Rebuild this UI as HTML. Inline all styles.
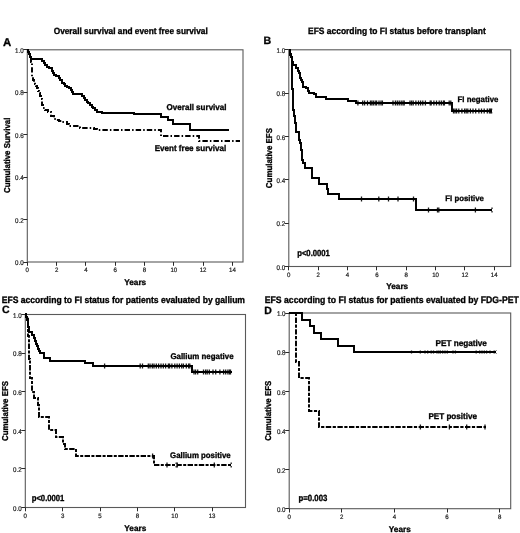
<!DOCTYPE html><html><head><meta charset="utf-8"><style>html,body{margin:0;padding:0;background:#fff;width:520px;height:533px;overflow:hidden}svg{display:block;filter:blur(0.35px)}text{font-family:"Liberation Sans",sans-serif;text-rendering:geometricPrecision}</style></head><body>
<svg width="520" height="533" viewBox="0 0 520 533">
<rect width="520" height="533" fill="#fff"/>
<rect x="27.30" y="49.80" width="215.70" height="212.20" fill="none" stroke="#5a5a5a" stroke-width="1.1"/>
<line x1="23.30" y1="262.50" x2="27.30" y2="262.50" stroke="#2a2a2a" stroke-width="1"/>
<text x="23.60" y="0" font-size="6.20" font-weight="normal" text-anchor="end" fill="#1a1a1a" stroke="#222" stroke-width="0.18" transform="translate(0,265.25) scale(1,1.100)">0.0</text>
<line x1="23.30" y1="219.50" x2="27.30" y2="219.50" stroke="#2a2a2a" stroke-width="1"/>
<text x="23.60" y="0" font-size="6.20" font-weight="normal" text-anchor="end" fill="#1a1a1a" stroke="#222" stroke-width="0.18" transform="translate(0,222.81) scale(1,1.100)">0.2</text>
<line x1="23.30" y1="177.50" x2="27.30" y2="177.50" stroke="#2a2a2a" stroke-width="1"/>
<text x="23.60" y="0" font-size="6.20" font-weight="normal" text-anchor="end" fill="#1a1a1a" stroke="#222" stroke-width="0.18" transform="translate(0,180.37) scale(1,1.100)">0.4</text>
<line x1="23.30" y1="134.50" x2="27.30" y2="134.50" stroke="#2a2a2a" stroke-width="1"/>
<text x="23.60" y="0" font-size="6.20" font-weight="normal" text-anchor="end" fill="#1a1a1a" stroke="#222" stroke-width="0.18" transform="translate(0,137.93) scale(1,1.100)">0.6</text>
<line x1="23.30" y1="92.50" x2="27.30" y2="92.50" stroke="#2a2a2a" stroke-width="1"/>
<text x="23.60" y="0" font-size="6.20" font-weight="normal" text-anchor="end" fill="#1a1a1a" stroke="#222" stroke-width="0.18" transform="translate(0,95.49) scale(1,1.100)">0.8</text>
<line x1="23.30" y1="49.50" x2="27.30" y2="49.50" stroke="#2a2a2a" stroke-width="1"/>
<text x="23.60" y="0" font-size="6.20" font-weight="normal" text-anchor="end" fill="#1a1a1a" stroke="#222" stroke-width="0.18" transform="translate(0,53.05) scale(1,1.100)">1.0</text>
<line x1="27.50" y1="262.00" x2="27.50" y2="265.80" stroke="#2a2a2a" stroke-width="1"/>
<text x="27.30" y="0" font-size="6.10" font-weight="normal" text-anchor="middle" fill="#1a1a1a" stroke="#222" stroke-width="0.2" transform="translate(0,272.00) scale(1,1.030)">0</text>
<line x1="56.50" y1="262.00" x2="56.50" y2="265.80" stroke="#2a2a2a" stroke-width="1"/>
<text x="56.60" y="0" font-size="6.10" font-weight="normal" text-anchor="middle" fill="#1a1a1a" stroke="#222" stroke-width="0.2" transform="translate(0,272.00) scale(1,1.030)">2</text>
<line x1="85.50" y1="262.00" x2="85.50" y2="265.80" stroke="#2a2a2a" stroke-width="1"/>
<text x="85.90" y="0" font-size="6.10" font-weight="normal" text-anchor="middle" fill="#1a1a1a" stroke="#222" stroke-width="0.2" transform="translate(0,272.00) scale(1,1.030)">4</text>
<line x1="115.50" y1="262.00" x2="115.50" y2="265.80" stroke="#2a2a2a" stroke-width="1"/>
<text x="115.20" y="0" font-size="6.10" font-weight="normal" text-anchor="middle" fill="#1a1a1a" stroke="#222" stroke-width="0.2" transform="translate(0,272.00) scale(1,1.030)">6</text>
<line x1="144.50" y1="262.00" x2="144.50" y2="265.80" stroke="#2a2a2a" stroke-width="1"/>
<text x="144.50" y="0" font-size="6.10" font-weight="normal" text-anchor="middle" fill="#1a1a1a" stroke="#222" stroke-width="0.2" transform="translate(0,272.00) scale(1,1.030)">8</text>
<line x1="173.50" y1="262.00" x2="173.50" y2="265.80" stroke="#2a2a2a" stroke-width="1"/>
<text x="173.80" y="0" font-size="6.10" font-weight="normal" text-anchor="middle" fill="#1a1a1a" stroke="#222" stroke-width="0.2" transform="translate(0,272.00) scale(1,1.030)">10</text>
<line x1="203.50" y1="262.00" x2="203.50" y2="265.80" stroke="#2a2a2a" stroke-width="1"/>
<text x="203.10" y="0" font-size="6.10" font-weight="normal" text-anchor="middle" fill="#1a1a1a" stroke="#222" stroke-width="0.2" transform="translate(0,272.00) scale(1,1.030)">12</text>
<line x1="232.50" y1="262.00" x2="232.50" y2="265.80" stroke="#2a2a2a" stroke-width="1"/>
<text x="232.40" y="0" font-size="6.10" font-weight="normal" text-anchor="middle" fill="#1a1a1a" stroke="#222" stroke-width="0.2" transform="translate(0,272.00) scale(1,1.030)">14</text>
<text x="2.90" y="45.50" font-size="11.40" font-weight="bold" text-anchor="start" fill="#000" stroke="#000" stroke-width="0.30">A</text>
<text x="130.70" y="0" font-size="8.30" font-weight="bold" text-anchor="middle" fill="#000" stroke="#000" stroke-width="0.30" transform="translate(0,33.70) scale(1,1.090)">Overall survival and event free survival</text>
<text x="166.60" y="0" font-size="8.05" font-weight="bold" text-anchor="start" fill="#000" stroke="#000" stroke-width="0.30" transform="translate(0,110.00) scale(1,1.050)">Overall survival</text>
<text x="154.70" y="0" font-size="8.05" font-weight="bold" text-anchor="start" fill="#000" stroke="#000" stroke-width="0.30" transform="translate(0,151.30) scale(1,1.050)">Event free survival</text>
<text x="0" y="0" font-size="7.90" font-weight="bold" text-anchor="middle" fill="#000" stroke="#000" stroke-width="0.30" transform="translate(10.10,155.30) rotate(-90) scale(1,1.080)">Cumulative Survival</text>
<text x="135.20" y="284.70" font-size="8.20" font-weight="bold" text-anchor="middle" fill="#000" stroke="#000" stroke-width="0.30">Years</text>
<path d="M27.00,50.00 L28.00,50.00 L28.00,52.00 L29.00,52.00 L29.00,54.00 L30.00,54.00 L30.00,56.00 L30.00,57.00 L31.00,57.00 L31.00,59.00 L41.00,59.00 L42.00,59.00 L42.00,61.00 L44.00,61.00 L44.00,63.00 L45.00,63.00 L45.00,65.00 L47.00,65.00 L47.00,67.00 L49.00,67.00 L49.00,68.00 L52.00,68.00 L52.00,71.00 L53.00,71.00 L53.00,73.00 L54.00,73.00 L54.00,75.00 L56.00,75.00 L56.00,76.00 L59.00,76.00 L59.00,78.00 L60.00,78.00 L60.00,80.00 L62.00,80.00 L62.00,83.00 L64.00,83.00 L64.00,84.00 L65.00,84.00 L65.00,86.00 L67.00,86.00 L67.00,87.00 L69.00,87.00 L69.00,88.00 L71.00,88.00 L71.00,90.00 L72.00,90.00 L72.00,92.00 L73.00,92.00 L73.00,94.00 L80.00,94.00 L82.00,94.00 L82.00,96.00 L84.00,96.00 L84.00,98.00 L85.00,98.00 L85.00,100.00 L87.00,100.00 L87.00,102.00 L88.00,102.00 L88.00,103.00 L90.00,103.00 L90.00,105.00 L92.00,105.00 L92.00,107.00 L93.00,107.00 L93.00,108.00 L95.00,108.00 L95.00,110.00 L97.00,110.00 L97.00,112.00 L99.00,112.00 L102.00,112.00 L102.00,113.00 L134.00,113.00 L134.00,114.00 L161.00,114.00 L161.00,117.00 L168.00,117.00 L168.00,120.00 L173.00,120.00 L173.00,124.00 L190.00,124.00 L190.00,130.00 L229.00,130.00" fill="none" stroke="#000" stroke-width="1.95" stroke-linejoin="miter" stroke-linecap="butt"/>
<path d="M27.00,50.00 L28.00,50.00 L28.00,52.00 L29.00,52.00 L29.00,54.00 L30.00,54.00 L30.00,57.00 L31.00,57.00 L31.00,59.00 L31.00,62.00 L32.00,62.00 L32.00,65.00 L32.00,67.00 L32.00,69.00 L32.00,72.00 L32.00,74.00 L32.00,77.00 L33.00,77.00 L33.00,80.00 L34.00,80.00 L34.00,82.00 L35.00,82.00 L35.00,84.00 L36.00,84.00 L36.00,86.00 L37.00,86.00 L37.00,88.00 L38.00,88.00 L38.00,91.00 L39.00,91.00 L39.00,93.00 L40.00,93.00 L40.00,96.00 L41.00,96.00 L41.00,99.00 L42.00,99.00 L42.00,102.00 L42.00,105.00 L43.00,105.00 L43.00,108.00 L45.00,108.00 L45.00,110.00 L48.00,110.00 L48.00,112.00 L51.00,112.00 L51.00,116.00 L54.00,116.00 L54.00,119.00 L56.00,119.00 L56.00,120.00 L59.00,120.00 L59.00,121.00 L62.00,121.00 L62.00,122.00 L65.00,122.00 L67.00,122.00 L67.00,124.00 L69.00,124.00 L69.00,126.00 L80.00,126.00 L80.00,128.00 L91.00,128.00 L94.00,128.00 L94.00,129.00 L97.00,129.00 L97.00,130.00 L161.00,130.00 L161.00,136.00 L199.00,136.00 L199.00,141.00 L240.00,141.00" fill="none" stroke="#000" stroke-width="1.95" stroke-linejoin="miter" stroke-linecap="butt" stroke-dasharray="5.4,2.1,1.5,2.1"/>
<rect x="288.80" y="49.80" width="221.90" height="216.70" fill="none" stroke="#5a5a5a" stroke-width="1.1"/>
<line x1="284.80" y1="266.50" x2="288.80" y2="266.50" stroke="#2a2a2a" stroke-width="1"/>
<text x="285.10" y="0" font-size="6.20" font-weight="normal" text-anchor="end" fill="#1a1a1a" stroke="#222" stroke-width="0.18" transform="translate(0,269.75) scale(1,1.100)">0.0</text>
<line x1="284.80" y1="223.50" x2="288.80" y2="223.50" stroke="#2a2a2a" stroke-width="1"/>
<text x="285.10" y="0" font-size="6.20" font-weight="normal" text-anchor="end" fill="#1a1a1a" stroke="#222" stroke-width="0.18" transform="translate(0,226.41) scale(1,1.100)">0.2</text>
<line x1="284.80" y1="179.50" x2="288.80" y2="179.50" stroke="#2a2a2a" stroke-width="1"/>
<text x="285.10" y="0" font-size="6.20" font-weight="normal" text-anchor="end" fill="#1a1a1a" stroke="#222" stroke-width="0.18" transform="translate(0,183.07) scale(1,1.100)">0.4</text>
<line x1="284.80" y1="136.50" x2="288.80" y2="136.50" stroke="#2a2a2a" stroke-width="1"/>
<text x="285.10" y="0" font-size="6.20" font-weight="normal" text-anchor="end" fill="#1a1a1a" stroke="#222" stroke-width="0.18" transform="translate(0,139.73) scale(1,1.100)">0.6</text>
<line x1="284.80" y1="93.50" x2="288.80" y2="93.50" stroke="#2a2a2a" stroke-width="1"/>
<text x="285.10" y="0" font-size="6.20" font-weight="normal" text-anchor="end" fill="#1a1a1a" stroke="#222" stroke-width="0.18" transform="translate(0,96.39) scale(1,1.100)">0.8</text>
<line x1="284.80" y1="49.50" x2="288.80" y2="49.50" stroke="#2a2a2a" stroke-width="1"/>
<text x="285.10" y="0" font-size="6.20" font-weight="normal" text-anchor="end" fill="#1a1a1a" stroke="#222" stroke-width="0.18" transform="translate(0,53.05) scale(1,1.100)">1.0</text>
<line x1="288.50" y1="266.50" x2="288.50" y2="270.30" stroke="#2a2a2a" stroke-width="1"/>
<text x="288.80" y="0" font-size="6.10" font-weight="normal" text-anchor="middle" fill="#1a1a1a" stroke="#222" stroke-width="0.2" transform="translate(0,276.50) scale(1,1.030)">0</text>
<line x1="318.50" y1="266.50" x2="318.50" y2="270.30" stroke="#2a2a2a" stroke-width="1"/>
<text x="318.15" y="0" font-size="6.10" font-weight="normal" text-anchor="middle" fill="#1a1a1a" stroke="#222" stroke-width="0.2" transform="translate(0,276.50) scale(1,1.030)">2</text>
<line x1="347.50" y1="266.50" x2="347.50" y2="270.30" stroke="#2a2a2a" stroke-width="1"/>
<text x="347.50" y="0" font-size="6.10" font-weight="normal" text-anchor="middle" fill="#1a1a1a" stroke="#222" stroke-width="0.2" transform="translate(0,276.50) scale(1,1.030)">4</text>
<line x1="376.50" y1="266.50" x2="376.50" y2="270.30" stroke="#2a2a2a" stroke-width="1"/>
<text x="376.85" y="0" font-size="6.10" font-weight="normal" text-anchor="middle" fill="#1a1a1a" stroke="#222" stroke-width="0.2" transform="translate(0,276.50) scale(1,1.030)">6</text>
<line x1="406.50" y1="266.50" x2="406.50" y2="270.30" stroke="#2a2a2a" stroke-width="1"/>
<text x="406.20" y="0" font-size="6.10" font-weight="normal" text-anchor="middle" fill="#1a1a1a" stroke="#222" stroke-width="0.2" transform="translate(0,276.50) scale(1,1.030)">8</text>
<line x1="435.50" y1="266.50" x2="435.50" y2="270.30" stroke="#2a2a2a" stroke-width="1"/>
<text x="435.55" y="0" font-size="6.10" font-weight="normal" text-anchor="middle" fill="#1a1a1a" stroke="#222" stroke-width="0.2" transform="translate(0,276.50) scale(1,1.030)">10</text>
<line x1="464.50" y1="266.50" x2="464.50" y2="270.30" stroke="#2a2a2a" stroke-width="1"/>
<text x="464.90" y="0" font-size="6.10" font-weight="normal" text-anchor="middle" fill="#1a1a1a" stroke="#222" stroke-width="0.2" transform="translate(0,276.50) scale(1,1.030)">12</text>
<line x1="494.50" y1="266.50" x2="494.50" y2="270.30" stroke="#2a2a2a" stroke-width="1"/>
<text x="494.25" y="0" font-size="6.10" font-weight="normal" text-anchor="middle" fill="#1a1a1a" stroke="#222" stroke-width="0.2" transform="translate(0,276.50) scale(1,1.030)">14</text>
<text x="263.50" y="43.90" font-size="10.60" font-weight="bold" text-anchor="start" fill="#000" stroke="#000" stroke-width="0.30">B</text>
<text x="396.90" y="0" font-size="8.45" font-weight="bold" text-anchor="middle" fill="#000" stroke="#000" stroke-width="0.30" transform="translate(0,33.70) scale(1,1.090)">EFS according to FI status before transplant</text>
<text x="457.60" y="0" font-size="7.80" font-weight="bold" text-anchor="start" fill="#000" stroke="#000" stroke-width="0.30" transform="translate(0,102.30) scale(1,1.040)">FI negative</text>
<text x="445.30" y="0" font-size="7.80" font-weight="bold" text-anchor="start" fill="#000" stroke="#000" stroke-width="0.30" transform="translate(0,201.20) scale(1,1.040)">FI positive</text>
<text x="297.20" y="0" font-size="7.70" font-weight="bold" text-anchor="start" fill="#000" stroke="#000" stroke-width="0.30" transform="translate(0,256.30) scale(1,1.150)">p&lt;0.0001</text>
<text x="0" y="0" font-size="7.90" font-weight="bold" text-anchor="middle" fill="#000" stroke="#000" stroke-width="0.30" transform="translate(271.60,158.10) rotate(-90) scale(1,1.080)">Cumulative EFS</text>
<text x="397.20" y="288.80" font-size="8.20" font-weight="bold" text-anchor="middle" fill="#000" stroke="#000" stroke-width="0.30">Years</text>
<path d="M289.00,50.00 L290.00,50.00 L290.00,52.00 L290.00,55.00 L291.00,55.00 L291.00,57.00 L292.00,57.00 L292.00,60.00 L292.00,62.00 L293.00,62.00 L293.00,65.00 L296.00,65.00 L296.00,68.00 L298.00,68.00 L298.00,71.00 L299.00,71.00 L299.00,73.00 L300.00,73.00 L300.00,76.00 L300.00,78.00 L301.00,78.00 L301.00,80.00 L302.00,80.00 L302.00,82.00 L303.00,82.00 L303.00,85.00 L303.00,87.00 L306.00,87.00 L306.00,88.00 L308.00,88.00 L308.00,91.00 L309.00,91.00 L309.00,93.00 L311.00,93.00 L314.00,93.00 L314.00,94.00 L316.00,94.00 L316.00,97.00 L326.00,97.00 L326.00,99.00 L348.00,99.00 L348.00,101.00 L356.00,101.00 L356.00,103.00 L452.00,103.00 L452.00,111.00 L492.00,111.00" fill="none" stroke="#000" stroke-width="1.95" stroke-linejoin="miter" stroke-linecap="butt"/>
<path d="M357.90,100.60 V102.10 M357.90,103.90 V105.40" stroke="#1a1a1a" stroke-width="1.30"/>
<path d="M362.70,100.60 V102.10 M362.70,103.90 V105.40" stroke="#1a1a1a" stroke-width="1.30"/>
<path d="M364.60,100.60 V102.10 M364.60,103.90 V105.40" stroke="#1a1a1a" stroke-width="1.30"/>
<path d="M367.50,100.60 V102.10 M367.50,103.90 V105.40" stroke="#1a1a1a" stroke-width="1.30"/>
<path d="M370.40,100.60 V102.10 M370.40,103.90 V105.40" stroke="#1a1a1a" stroke-width="1.30"/>
<path d="M371.80,100.60 V102.10 M371.80,103.90 V105.40" stroke="#1a1a1a" stroke-width="1.30"/>
<path d="M373.30,100.60 V102.10 M373.30,103.90 V105.40" stroke="#1a1a1a" stroke-width="1.30"/>
<path d="M375.20,100.60 V102.10 M375.20,103.90 V105.40" stroke="#1a1a1a" stroke-width="1.30"/>
<path d="M376.60,100.60 V102.10 M376.60,103.90 V105.40" stroke="#1a1a1a" stroke-width="1.30"/>
<path d="M379.00,100.60 V102.10 M379.00,103.90 V105.40" stroke="#1a1a1a" stroke-width="1.30"/>
<path d="M381.00,100.60 V102.10 M381.00,103.90 V105.40" stroke="#1a1a1a" stroke-width="1.30"/>
<path d="M382.40,100.60 V102.10 M382.40,103.90 V105.40" stroke="#1a1a1a" stroke-width="1.30"/>
<path d="M393.00,100.60 V102.10 M393.00,103.90 V105.40" stroke="#1a1a1a" stroke-width="1.30"/>
<path d="M395.40,100.60 V102.10 M395.40,103.90 V105.40" stroke="#1a1a1a" stroke-width="1.30"/>
<path d="M397.30,100.60 V102.10 M397.30,103.90 V105.40" stroke="#1a1a1a" stroke-width="1.30"/>
<path d="M399.20,100.60 V102.10 M399.20,103.90 V105.40" stroke="#1a1a1a" stroke-width="1.30"/>
<path d="M401.20,100.60 V102.10 M401.20,103.90 V105.40" stroke="#1a1a1a" stroke-width="1.30"/>
<path d="M403.00,100.60 V102.10 M403.00,103.90 V105.40" stroke="#1a1a1a" stroke-width="1.30"/>
<path d="M404.20,100.60 V102.10 M404.20,103.90 V105.40" stroke="#1a1a1a" stroke-width="1.30"/>
<path d="M410.00,100.60 V102.10 M410.00,103.90 V105.40" stroke="#1a1a1a" stroke-width="1.30"/>
<path d="M411.60,100.60 V102.10 M411.60,103.90 V105.40" stroke="#1a1a1a" stroke-width="1.30"/>
<path d="M413.20,100.60 V102.10 M413.20,103.90 V105.40" stroke="#1a1a1a" stroke-width="1.30"/>
<path d="M415.90,100.60 V102.10 M415.90,103.90 V105.40" stroke="#1a1a1a" stroke-width="1.30"/>
<path d="M418.50,100.60 V102.10 M418.50,103.90 V105.40" stroke="#1a1a1a" stroke-width="1.30"/>
<path d="M420.60,100.60 V102.10 M420.60,103.90 V105.40" stroke="#1a1a1a" stroke-width="1.30"/>
<path d="M422.80,100.60 V102.10 M422.80,103.90 V105.40" stroke="#1a1a1a" stroke-width="1.30"/>
<path d="M425.40,100.60 V102.10 M425.40,103.90 V105.40" stroke="#1a1a1a" stroke-width="1.30"/>
<path d="M430.20,100.60 V102.10 M430.20,103.90 V105.40" stroke="#1a1a1a" stroke-width="1.30"/>
<path d="M431.20,100.60 V102.10 M431.20,103.90 V105.40" stroke="#1a1a1a" stroke-width="1.30"/>
<path d="M433.90,100.60 V102.10 M433.90,103.90 V105.40" stroke="#1a1a1a" stroke-width="1.30"/>
<path d="M436.50,100.60 V102.10 M436.50,103.90 V105.40" stroke="#1a1a1a" stroke-width="1.30"/>
<path d="M439.20,100.60 V102.10 M439.20,103.90 V105.40" stroke="#1a1a1a" stroke-width="1.30"/>
<path d="M441.30,100.60 V102.10 M441.30,103.90 V105.40" stroke="#1a1a1a" stroke-width="1.30"/>
<path d="M443.40,100.60 V102.10 M443.40,103.90 V105.40" stroke="#1a1a1a" stroke-width="1.30"/>
<path d="M444.40,100.60 V102.10 M444.40,103.90 V105.40" stroke="#1a1a1a" stroke-width="1.30"/>
<path d="M449.20,100.60 V102.10 M449.20,103.90 V105.40" stroke="#1a1a1a" stroke-width="1.30"/>
<path d="M450.80,100.60 V102.10 M450.80,103.90 V105.40" stroke="#1a1a1a" stroke-width="1.30"/>
<path d="M453.50,108.60 V110.10 M453.50,111.90 V113.40" stroke="#1a1a1a" stroke-width="1.30"/>
<path d="M455.00,108.60 V110.10 M455.00,111.90 V113.40" stroke="#1a1a1a" stroke-width="1.30"/>
<path d="M456.60,108.60 V110.10 M456.60,111.90 V113.40" stroke="#1a1a1a" stroke-width="1.30"/>
<path d="M458.80,108.60 V110.10 M458.80,111.90 V113.40" stroke="#1a1a1a" stroke-width="1.30"/>
<path d="M461.90,108.60 V110.10 M461.90,111.90 V113.40" stroke="#1a1a1a" stroke-width="1.30"/>
<path d="M464.60,108.60 V110.10 M464.60,111.90 V113.40" stroke="#1a1a1a" stroke-width="1.30"/>
<path d="M466.20,108.60 V110.10 M466.20,111.90 V113.40" stroke="#1a1a1a" stroke-width="1.30"/>
<path d="M467.80,108.60 V110.10 M467.80,111.90 V113.40" stroke="#1a1a1a" stroke-width="1.30"/>
<path d="M470.40,108.60 V110.10 M470.40,111.90 V113.40" stroke="#1a1a1a" stroke-width="1.30"/>
<path d="M473.00,108.60 V110.10 M473.00,111.90 V113.40" stroke="#1a1a1a" stroke-width="1.30"/>
<path d="M475.70,108.60 V110.10 M475.70,111.90 V113.40" stroke="#1a1a1a" stroke-width="1.30"/>
<path d="M478.90,108.60 V110.10 M478.90,111.90 V113.40" stroke="#1a1a1a" stroke-width="1.30"/>
<path d="M481.50,108.60 V110.10 M481.50,111.90 V113.40" stroke="#1a1a1a" stroke-width="1.30"/>
<path d="M484.20,108.60 V110.10 M484.20,111.90 V113.40" stroke="#1a1a1a" stroke-width="1.30"/>
<path d="M487.30,108.60 V110.10 M487.30,111.90 V113.40" stroke="#1a1a1a" stroke-width="1.30"/>
<path d="M489.40,108.60 V110.10 M489.40,111.90 V113.40" stroke="#1a1a1a" stroke-width="1.30"/>
<path d="M490.50,108.60 V110.10 M490.50,111.90 V113.40" stroke="#1a1a1a" stroke-width="1.30"/>
<path d="M491.60,108.60 V110.10 M491.60,111.90 V113.40" stroke="#1a1a1a" stroke-width="1.30"/>
<path d="M289.00,50.00 L290.00,50.00 L290.00,54.00 L291.00,54.00 L291.00,57.00 L292.00,57.00 L292.00,60.00 L292.00,64.00 L292.00,67.00 L292.00,71.00 L292.00,74.00 L292.00,78.00 L292.00,81.00 L292.00,85.00 L292.00,89.00 L293.00,89.00 L293.00,92.00 L293.00,96.00 L293.00,99.00 L293.00,103.00 L293.00,106.00 L293.00,110.00 L294.00,110.00 L294.00,113.00 L294.00,116.00 L295.00,116.00 L295.00,120.00 L295.00,123.00 L296.00,123.00 L296.00,126.00 L296.00,129.00 L296.00,132.00 L299.00,132.00 L299.00,137.00 L299.00,140.00 L300.00,140.00 L300.00,143.00 L301.00,143.00 L301.00,147.00 L301.00,150.00 L302.00,150.00 L302.00,153.00 L302.00,156.00 L302.00,160.00 L303.00,160.00 L303.00,163.00 L305.00,163.00 L305.00,168.00 L312.00,168.00 L312.00,178.00 L319.00,178.00 L319.00,184.00 L327.00,184.00 L327.00,189.00 L328.00,189.00 L328.00,194.00 L339.00,194.00 L339.00,199.00 L416.00,199.00 L416.00,210.00 L492.00,210.00" fill="none" stroke="#000" stroke-width="1.95" stroke-linejoin="miter" stroke-linecap="butt"/>
<path d="M361.50,196.60 V198.10 M361.50,199.90 V201.40" stroke="#1a1a1a" stroke-width="1.30"/>
<path d="M378.80,196.60 V198.10 M378.80,199.90 V201.40" stroke="#1a1a1a" stroke-width="1.30"/>
<path d="M388.50,196.60 V198.10 M388.50,199.90 V201.40" stroke="#1a1a1a" stroke-width="1.30"/>
<path d="M398.00,196.60 V198.10 M398.00,199.90 V201.40" stroke="#1a1a1a" stroke-width="1.30"/>
<path d="M413.50,196.60 V198.10 M413.50,199.90 V201.40" stroke="#1a1a1a" stroke-width="1.30"/>
<path d="M428.50,207.60 V209.10 M428.50,210.90 V212.40" stroke="#1a1a1a" stroke-width="1.30"/>
<path d="M437.50,207.60 V209.10 M437.50,210.90 V212.40" stroke="#1a1a1a" stroke-width="1.30"/>
<path d="M438.80,207.60 V209.10 M438.80,210.90 V212.40" stroke="#1a1a1a" stroke-width="1.30"/>
<path d="M475.40,207.60 V209.10 M475.40,210.90 V212.40" stroke="#1a1a1a" stroke-width="1.30"/>
<path d="M492.00,207.60 V209.10 M492.00,210.90 V212.40" stroke="#1a1a1a" stroke-width="1.30"/>
<rect x="25.30" y="314.50" width="220.20" height="193.00" fill="none" stroke="#5a5a5a" stroke-width="1.1"/>
<line x1="21.30" y1="507.50" x2="25.30" y2="507.50" stroke="#2a2a2a" stroke-width="1"/>
<text x="21.60" y="0" font-size="6.20" font-weight="normal" text-anchor="end" fill="#1a1a1a" stroke="#222" stroke-width="0.18" transform="translate(0,510.75) scale(1,1.100)">0.0</text>
<line x1="21.30" y1="468.50" x2="25.30" y2="468.50" stroke="#2a2a2a" stroke-width="1"/>
<text x="21.60" y="0" font-size="6.20" font-weight="normal" text-anchor="end" fill="#1a1a1a" stroke="#222" stroke-width="0.18" transform="translate(0,472.15) scale(1,1.100)">0.2</text>
<line x1="21.30" y1="430.50" x2="25.30" y2="430.50" stroke="#2a2a2a" stroke-width="1"/>
<text x="21.60" y="0" font-size="6.20" font-weight="normal" text-anchor="end" fill="#1a1a1a" stroke="#222" stroke-width="0.18" transform="translate(0,433.55) scale(1,1.100)">0.4</text>
<line x1="21.30" y1="391.50" x2="25.30" y2="391.50" stroke="#2a2a2a" stroke-width="1"/>
<text x="21.60" y="0" font-size="6.20" font-weight="normal" text-anchor="end" fill="#1a1a1a" stroke="#222" stroke-width="0.18" transform="translate(0,394.95) scale(1,1.100)">0.6</text>
<line x1="21.30" y1="353.50" x2="25.30" y2="353.50" stroke="#2a2a2a" stroke-width="1"/>
<text x="21.60" y="0" font-size="6.20" font-weight="normal" text-anchor="end" fill="#1a1a1a" stroke="#222" stroke-width="0.18" transform="translate(0,356.35) scale(1,1.100)">0.8</text>
<line x1="21.30" y1="314.50" x2="25.30" y2="314.50" stroke="#2a2a2a" stroke-width="1"/>
<text x="21.60" y="0" font-size="6.20" font-weight="normal" text-anchor="end" fill="#1a1a1a" stroke="#222" stroke-width="0.18" transform="translate(0,317.75) scale(1,1.100)">1.0</text>
<line x1="25.50" y1="507.50" x2="25.50" y2="511.30" stroke="#2a2a2a" stroke-width="1"/>
<text x="25.30" y="0" font-size="6.10" font-weight="normal" text-anchor="middle" fill="#1a1a1a" stroke="#222" stroke-width="0.2" transform="translate(0,517.50) scale(1,1.030)">0</text>
<line x1="62.50" y1="507.50" x2="62.50" y2="511.30" stroke="#2a2a2a" stroke-width="1"/>
<text x="62.65" y="0" font-size="6.10" font-weight="normal" text-anchor="middle" fill="#1a1a1a" stroke="#222" stroke-width="0.2" transform="translate(0,517.50) scale(1,1.030)">3</text>
<line x1="100.50" y1="507.50" x2="100.50" y2="511.30" stroke="#2a2a2a" stroke-width="1"/>
<text x="100.00" y="0" font-size="6.10" font-weight="normal" text-anchor="middle" fill="#1a1a1a" stroke="#222" stroke-width="0.2" transform="translate(0,517.50) scale(1,1.030)">5</text>
<line x1="137.50" y1="507.50" x2="137.50" y2="511.30" stroke="#2a2a2a" stroke-width="1"/>
<text x="137.35" y="0" font-size="6.10" font-weight="normal" text-anchor="middle" fill="#1a1a1a" stroke="#222" stroke-width="0.2" transform="translate(0,517.50) scale(1,1.030)">8</text>
<line x1="174.50" y1="507.50" x2="174.50" y2="511.30" stroke="#2a2a2a" stroke-width="1"/>
<text x="174.70" y="0" font-size="6.10" font-weight="normal" text-anchor="middle" fill="#1a1a1a" stroke="#222" stroke-width="0.2" transform="translate(0,517.50) scale(1,1.030)">10</text>
<line x1="212.50" y1="507.50" x2="212.50" y2="511.30" stroke="#2a2a2a" stroke-width="1"/>
<text x="212.05" y="0" font-size="6.10" font-weight="normal" text-anchor="middle" fill="#1a1a1a" stroke="#222" stroke-width="0.2" transform="translate(0,517.50) scale(1,1.030)">13</text>
<text x="2.00" y="313.40" font-size="10.50" font-weight="bold" text-anchor="start" fill="#000" stroke="#000" stroke-width="0.30">C</text>
<text x="1.80" y="0" font-size="8.56" font-weight="bold" text-anchor="start" fill="#000" stroke="#000" stroke-width="0.30" transform="translate(0,302.80) scale(1,1.090)">EFS according to FI status for patients evaluated by gallium</text>
<text x="170.40" y="0" font-size="7.90" font-weight="bold" text-anchor="start" fill="#000" stroke="#000" stroke-width="0.30" transform="translate(0,358.80) scale(1,1.040)">Gallium negative</text>
<text x="170.10" y="0" font-size="7.85" font-weight="bold" text-anchor="start" fill="#000" stroke="#000" stroke-width="0.30" transform="translate(0,457.70) scale(1,1.040)">Gallium positive</text>
<text x="31.70" y="0" font-size="7.70" font-weight="bold" text-anchor="start" fill="#000" stroke="#000" stroke-width="0.30" transform="translate(0,500.50) scale(1,1.150)">p&lt;0.0001</text>
<text x="0" y="0" font-size="7.90" font-weight="bold" text-anchor="middle" fill="#000" stroke="#000" stroke-width="0.30" transform="translate(7.60,411.00) rotate(-90) scale(1,1.080)">Cumulative EFS</text>
<text x="135.30" y="530.50" font-size="8.20" font-weight="bold" text-anchor="middle" fill="#000" stroke="#000" stroke-width="0.30">Years</text>
<path d="M25.00,314.00 L26.00,314.00 L26.00,317.00 L27.00,317.00 L27.00,320.00 L28.00,320.00 L28.00,322.00 L28.00,324.00 L28.00,327.00 L29.00,327.00 L29.00,330.00 L29.00,332.00 L32.00,332.00 L32.00,335.00 L34.00,335.00 L34.00,338.00 L35.00,338.00 L35.00,341.00 L36.00,341.00 L36.00,344.00 L37.00,344.00 L37.00,346.00 L38.00,346.00 L38.00,349.00 L39.00,349.00 L39.00,351.00 L40.00,351.00 L40.00,353.00 L44.00,353.00 L44.00,358.00 L50.00,358.00 L50.00,361.00 L85.00,361.00 L85.00,363.00 L88.00,363.00 L90.00,363.00 L93.00,363.00 L93.00,366.00 L192.00,366.00 L192.00,372.00 L232.00,372.00" fill="none" stroke="#000" stroke-width="1.95" stroke-linejoin="miter" stroke-linecap="butt"/>
<path d="M104.60,363.60 V365.10 M104.60,366.90 V368.40" stroke="#1a1a1a" stroke-width="1.30"/>
<path d="M140.20,363.60 V365.10 M140.20,366.90 V368.40" stroke="#1a1a1a" stroke-width="1.30"/>
<path d="M142.50,363.60 V365.10 M142.50,366.90 V368.40" stroke="#1a1a1a" stroke-width="1.30"/>
<path d="M148.30,363.60 V365.10 M148.30,366.90 V368.40" stroke="#1a1a1a" stroke-width="1.30"/>
<path d="M150.00,363.60 V365.10 M150.00,366.90 V368.40" stroke="#1a1a1a" stroke-width="1.30"/>
<path d="M152.30,363.60 V365.10 M152.30,366.90 V368.40" stroke="#1a1a1a" stroke-width="1.30"/>
<path d="M154.00,363.60 V365.10 M154.00,366.90 V368.40" stroke="#1a1a1a" stroke-width="1.30"/>
<path d="M156.30,363.60 V365.10 M156.30,366.90 V368.40" stroke="#1a1a1a" stroke-width="1.30"/>
<path d="M158.60,363.60 V365.10 M158.60,366.90 V368.40" stroke="#1a1a1a" stroke-width="1.30"/>
<path d="M161.00,363.60 V365.10 M161.00,366.90 V368.40" stroke="#1a1a1a" stroke-width="1.30"/>
<path d="M163.30,363.60 V365.10 M163.30,366.90 V368.40" stroke="#1a1a1a" stroke-width="1.30"/>
<path d="M165.60,363.60 V365.10 M165.60,366.90 V368.40" stroke="#1a1a1a" stroke-width="1.30"/>
<path d="M168.40,363.60 V365.10 M168.40,366.90 V368.40" stroke="#1a1a1a" stroke-width="1.30"/>
<path d="M169.60,363.60 V365.10 M169.60,366.90 V368.40" stroke="#1a1a1a" stroke-width="1.30"/>
<path d="M171.90,363.60 V365.10 M171.90,366.90 V368.40" stroke="#1a1a1a" stroke-width="1.30"/>
<path d="M174.80,363.60 V365.10 M174.80,366.90 V368.40" stroke="#1a1a1a" stroke-width="1.30"/>
<path d="M177.10,363.60 V365.10 M177.10,366.90 V368.40" stroke="#1a1a1a" stroke-width="1.30"/>
<path d="M179.40,363.60 V365.10 M179.40,366.90 V368.40" stroke="#1a1a1a" stroke-width="1.30"/>
<path d="M181.70,363.60 V365.10 M181.70,366.90 V368.40" stroke="#1a1a1a" stroke-width="1.30"/>
<path d="M183.40,363.60 V365.10 M183.40,366.90 V368.40" stroke="#1a1a1a" stroke-width="1.30"/>
<path d="M186.30,363.60 V365.10 M186.30,366.90 V368.40" stroke="#1a1a1a" stroke-width="1.30"/>
<path d="M188.60,363.60 V365.10 M188.60,366.90 V368.40" stroke="#1a1a1a" stroke-width="1.30"/>
<path d="M189.80,363.60 V365.10 M189.80,366.90 V368.40" stroke="#1a1a1a" stroke-width="1.30"/>
<path d="M194.00,369.60 V371.10 M194.00,372.90 V374.40" stroke="#1a1a1a" stroke-width="1.30"/>
<path d="M195.60,369.60 V371.10 M195.60,372.90 V374.40" stroke="#1a1a1a" stroke-width="1.30"/>
<path d="M197.70,369.60 V371.10 M197.70,372.90 V374.40" stroke="#1a1a1a" stroke-width="1.30"/>
<path d="M203.50,369.60 V371.10 M203.50,372.90 V374.40" stroke="#1a1a1a" stroke-width="1.30"/>
<path d="M205.60,369.60 V371.10 M205.60,372.90 V374.40" stroke="#1a1a1a" stroke-width="1.30"/>
<path d="M207.20,369.60 V371.10 M207.20,372.90 V374.40" stroke="#1a1a1a" stroke-width="1.30"/>
<path d="M209.30,369.60 V371.10 M209.30,372.90 V374.40" stroke="#1a1a1a" stroke-width="1.30"/>
<path d="M213.00,369.60 V371.10 M213.00,372.90 V374.40" stroke="#1a1a1a" stroke-width="1.30"/>
<path d="M215.70,369.60 V371.10 M215.70,372.90 V374.40" stroke="#1a1a1a" stroke-width="1.30"/>
<path d="M219.90,369.60 V371.10 M219.90,372.90 V374.40" stroke="#1a1a1a" stroke-width="1.30"/>
<path d="M223.60,369.60 V371.10 M223.60,372.90 V374.40" stroke="#1a1a1a" stroke-width="1.30"/>
<path d="M225.70,369.60 V371.10 M225.70,372.90 V374.40" stroke="#1a1a1a" stroke-width="1.30"/>
<path d="M227.90,369.60 V371.10 M227.90,372.90 V374.40" stroke="#1a1a1a" stroke-width="1.30"/>
<path d="M229.40,369.60 V371.10 M229.40,372.90 V374.40" stroke="#1a1a1a" stroke-width="1.30"/>
<path d="M230.50,369.60 V371.10 M230.50,372.90 V374.40" stroke="#1a1a1a" stroke-width="1.30"/>
<path d="M25.00,314.00 L26.00,314.00 L26.00,317.00 L28.00,317.00 L28.00,320.00 L28.00,323.00 L28.00,326.00 L28.00,330.00 L28.00,333.00 L28.00,336.00 L29.00,336.00 L29.00,339.00 L29.00,342.00 L29.00,344.00 L29.00,347.00 L29.00,350.00 L29.00,353.00 L29.00,356.00 L29.00,359.00 L30.00,359.00 L30.00,361.00 L30.00,364.00 L30.00,367.00 L30.00,370.00 L30.00,378.00 L32.00,378.00 L32.00,392.00 L34.00,392.00 L34.00,398.00 L38.00,398.00 L38.00,405.00 L39.00,405.00 L39.00,417.00 L49.00,417.00 L49.00,430.00 L56.00,430.00 L56.00,437.00 L63.00,437.00 L63.00,444.00 L65.00,444.00 L65.00,449.00 L76.00,449.00 L76.00,456.00 L154.00,456.00 L154.00,465.00 L232.00,465.00" fill="none" stroke="#000" stroke-width="1.95" stroke-linejoin="miter" stroke-linecap="butt" stroke-dasharray="5.4,1.4,3.0,1.4"/>
<path d="M152.60,453.60 V455.10 M152.60,456.90 V458.40" stroke="#1a1a1a" stroke-width="1.30"/>
<path d="M167.00,462.60 V464.10 M167.00,465.90 V467.40" stroke="#1a1a1a" stroke-width="1.30"/>
<path d="M176.20,462.60 V464.10 M176.20,465.90 V467.40" stroke="#1a1a1a" stroke-width="1.30"/>
<path d="M177.30,462.60 V464.10 M177.30,465.90 V467.40" stroke="#1a1a1a" stroke-width="1.30"/>
<path d="M214.30,462.60 V464.10 M214.30,465.90 V467.40" stroke="#1a1a1a" stroke-width="1.30"/>
<path d="M231.20,462.60 V464.10 M231.20,465.90 V467.40" stroke="#1a1a1a" stroke-width="1.30"/>
<rect x="289.20" y="313.00" width="221.50" height="195.70" fill="none" stroke="#5a5a5a" stroke-width="1.1"/>
<line x1="285.20" y1="508.50" x2="289.20" y2="508.50" stroke="#2a2a2a" stroke-width="1"/>
<text x="285.50" y="0" font-size="6.20" font-weight="normal" text-anchor="end" fill="#1a1a1a" stroke="#222" stroke-width="0.18" transform="translate(0,511.95) scale(1,1.100)">0.0</text>
<line x1="285.20" y1="469.50" x2="289.20" y2="469.50" stroke="#2a2a2a" stroke-width="1"/>
<text x="285.50" y="0" font-size="6.20" font-weight="normal" text-anchor="end" fill="#1a1a1a" stroke="#222" stroke-width="0.18" transform="translate(0,472.81) scale(1,1.100)">0.2</text>
<line x1="285.20" y1="430.50" x2="289.20" y2="430.50" stroke="#2a2a2a" stroke-width="1"/>
<text x="285.50" y="0" font-size="6.20" font-weight="normal" text-anchor="end" fill="#1a1a1a" stroke="#222" stroke-width="0.18" transform="translate(0,433.67) scale(1,1.100)">0.4</text>
<line x1="285.20" y1="391.50" x2="289.20" y2="391.50" stroke="#2a2a2a" stroke-width="1"/>
<text x="285.50" y="0" font-size="6.20" font-weight="normal" text-anchor="end" fill="#1a1a1a" stroke="#222" stroke-width="0.18" transform="translate(0,394.53) scale(1,1.100)">0.6</text>
<line x1="285.20" y1="352.50" x2="289.20" y2="352.50" stroke="#2a2a2a" stroke-width="1"/>
<text x="285.50" y="0" font-size="6.20" font-weight="normal" text-anchor="end" fill="#1a1a1a" stroke="#222" stroke-width="0.18" transform="translate(0,355.39) scale(1,1.100)">0.8</text>
<line x1="285.20" y1="313.50" x2="289.20" y2="313.50" stroke="#2a2a2a" stroke-width="1"/>
<text x="285.50" y="0" font-size="6.20" font-weight="normal" text-anchor="end" fill="#1a1a1a" stroke="#222" stroke-width="0.18" transform="translate(0,316.25) scale(1,1.100)">1.0</text>
<line x1="289.50" y1="508.70" x2="289.50" y2="512.50" stroke="#2a2a2a" stroke-width="1"/>
<text x="289.20" y="0" font-size="6.10" font-weight="normal" text-anchor="middle" fill="#1a1a1a" stroke="#222" stroke-width="0.2" transform="translate(0,518.70) scale(1,1.030)">0</text>
<line x1="341.50" y1="508.70" x2="341.50" y2="512.50" stroke="#2a2a2a" stroke-width="1"/>
<text x="341.80" y="0" font-size="6.10" font-weight="normal" text-anchor="middle" fill="#1a1a1a" stroke="#222" stroke-width="0.2" transform="translate(0,518.70) scale(1,1.030)">2</text>
<line x1="394.50" y1="508.70" x2="394.50" y2="512.50" stroke="#2a2a2a" stroke-width="1"/>
<text x="394.40" y="0" font-size="6.10" font-weight="normal" text-anchor="middle" fill="#1a1a1a" stroke="#222" stroke-width="0.2" transform="translate(0,518.70) scale(1,1.030)">4</text>
<line x1="447.50" y1="508.70" x2="447.50" y2="512.50" stroke="#2a2a2a" stroke-width="1"/>
<text x="447.00" y="0" font-size="6.10" font-weight="normal" text-anchor="middle" fill="#1a1a1a" stroke="#222" stroke-width="0.2" transform="translate(0,518.70) scale(1,1.030)">6</text>
<line x1="499.50" y1="508.70" x2="499.50" y2="512.50" stroke="#2a2a2a" stroke-width="1"/>
<text x="499.60" y="0" font-size="6.10" font-weight="normal" text-anchor="middle" fill="#1a1a1a" stroke="#222" stroke-width="0.2" transform="translate(0,518.70) scale(1,1.030)">8</text>
<text x="264.30" y="313.50" font-size="10.50" font-weight="bold" text-anchor="start" fill="#000" stroke="#000" stroke-width="0.30">D</text>
<text x="264.80" y="0" font-size="8.66" font-weight="bold" text-anchor="start" fill="#000" stroke="#000" stroke-width="0.30" transform="translate(0,302.80) scale(1,1.090)">EFS according to FI status for patients evaluated by FDG-PET</text>
<text x="435.50" y="0" font-size="8.20" font-weight="bold" text-anchor="start" fill="#000" stroke="#000" stroke-width="0.30" transform="translate(0,345.70) scale(1,1.040)">PET negative</text>
<text x="428.40" y="0" font-size="8.10" font-weight="bold" text-anchor="start" fill="#000" stroke="#000" stroke-width="0.30" transform="translate(0,419.40) scale(1,1.040)">PET positive</text>
<text x="298.50" y="0" font-size="7.80" font-weight="bold" text-anchor="start" fill="#000" stroke="#000" stroke-width="0.30" transform="translate(0,500.60) scale(1,1.150)">p=0.003</text>
<text x="0" y="0" font-size="7.90" font-weight="bold" text-anchor="middle" fill="#000" stroke="#000" stroke-width="0.30" transform="translate(271.40,410.80) rotate(-90) scale(1,1.080)">Cumulative EFS</text>
<text x="399.80" y="532.30" font-size="8.20" font-weight="bold" text-anchor="middle" fill="#000" stroke="#000" stroke-width="0.30">Years</text>
<path d="M289.00,313.00 L302.00,313.00 L302.00,320.00 L310.00,320.00 L310.00,326.00 L314.00,326.00 L314.00,333.00 L321.00,333.00 L321.00,339.00 L338.00,339.00 L338.00,346.00 L354.00,346.00 L354.00,352.00 L496.00,352.00" fill="none" stroke="#000" stroke-width="1.95" stroke-linejoin="miter" stroke-linecap="butt"/>
<path d="M411.50,350.50 V351.10 M411.50,352.90 V353.50" stroke="#1a1a1a" stroke-width="1.30"/>
<path d="M420.30,350.50 V351.10 M420.30,352.90 V353.50" stroke="#1a1a1a" stroke-width="1.30"/>
<path d="M425.00,350.50 V351.10 M425.00,352.90 V353.50" stroke="#1a1a1a" stroke-width="1.30"/>
<path d="M427.70,350.50 V351.10 M427.70,352.90 V353.50" stroke="#1a1a1a" stroke-width="1.30"/>
<path d="M431.20,350.50 V351.10 M431.20,352.90 V353.50" stroke="#1a1a1a" stroke-width="1.30"/>
<path d="M433.50,350.50 V351.10 M433.50,352.90 V353.50" stroke="#1a1a1a" stroke-width="1.30"/>
<path d="M437.00,350.50 V351.10 M437.00,352.90 V353.50" stroke="#1a1a1a" stroke-width="1.30"/>
<path d="M438.80,350.50 V351.10 M438.80,352.90 V353.50" stroke="#1a1a1a" stroke-width="1.30"/>
<path d="M440.40,350.50 V351.10 M440.40,352.90 V353.50" stroke="#1a1a1a" stroke-width="1.30"/>
<path d="M442.70,350.50 V351.10 M442.70,352.90 V353.50" stroke="#1a1a1a" stroke-width="1.30"/>
<path d="M445.00,350.50 V351.10 M445.00,352.90 V353.50" stroke="#1a1a1a" stroke-width="1.30"/>
<path d="M447.30,350.50 V351.10 M447.30,352.90 V353.50" stroke="#1a1a1a" stroke-width="1.30"/>
<path d="M453.00,350.50 V351.10 M453.00,352.90 V353.50" stroke="#1a1a1a" stroke-width="1.30"/>
<path d="M455.40,350.50 V351.10 M455.40,352.90 V353.50" stroke="#1a1a1a" stroke-width="1.30"/>
<path d="M476.20,350.50 V351.10 M476.20,352.90 V353.50" stroke="#1a1a1a" stroke-width="1.30"/>
<path d="M479.70,350.50 V351.10 M479.70,352.90 V353.50" stroke="#1a1a1a" stroke-width="1.30"/>
<path d="M482.00,350.50 V351.10 M482.00,352.90 V353.50" stroke="#1a1a1a" stroke-width="1.30"/>
<path d="M484.30,350.50 V351.10 M484.30,352.90 V353.50" stroke="#1a1a1a" stroke-width="1.30"/>
<path d="M486.60,350.50 V351.10 M486.60,352.90 V353.50" stroke="#1a1a1a" stroke-width="1.30"/>
<path d="M490.00,350.50 V351.10 M490.00,352.90 V353.50" stroke="#1a1a1a" stroke-width="1.30"/>
<path d="M494.20,350.50 V351.10 M494.20,352.90 V353.50" stroke="#1a1a1a" stroke-width="1.30"/>
<path d="M496.30,350.50 V351.10 M496.30,352.90 V353.50" stroke="#1a1a1a" stroke-width="1.30"/>
<path d="M289.00,313.00 L296.00,313.00 L296.00,362.00 L299.00,362.00 L299.00,378.00 L309.00,378.00 L309.00,411.00 L319.00,411.00 L319.00,427.00 L486.00,427.00" fill="none" stroke="#000" stroke-width="1.95" stroke-linejoin="miter" stroke-linecap="butt" stroke-dasharray="5.4,1.5,3.2,1.5"/>
<path d="M420.40,424.60 V426.10 M420.40,427.90 V429.40" stroke="#1a1a1a" stroke-width="1.30"/>
<path d="M449.40,424.60 V426.10 M449.40,427.90 V429.40" stroke="#1a1a1a" stroke-width="1.30"/>
<path d="M466.70,424.60 V426.10 M466.70,427.90 V429.40" stroke="#1a1a1a" stroke-width="1.30"/>
<path d="M485.00,424.60 V426.10 M485.00,427.90 V429.40" stroke="#1a1a1a" stroke-width="1.30"/>
</svg></body></html>
